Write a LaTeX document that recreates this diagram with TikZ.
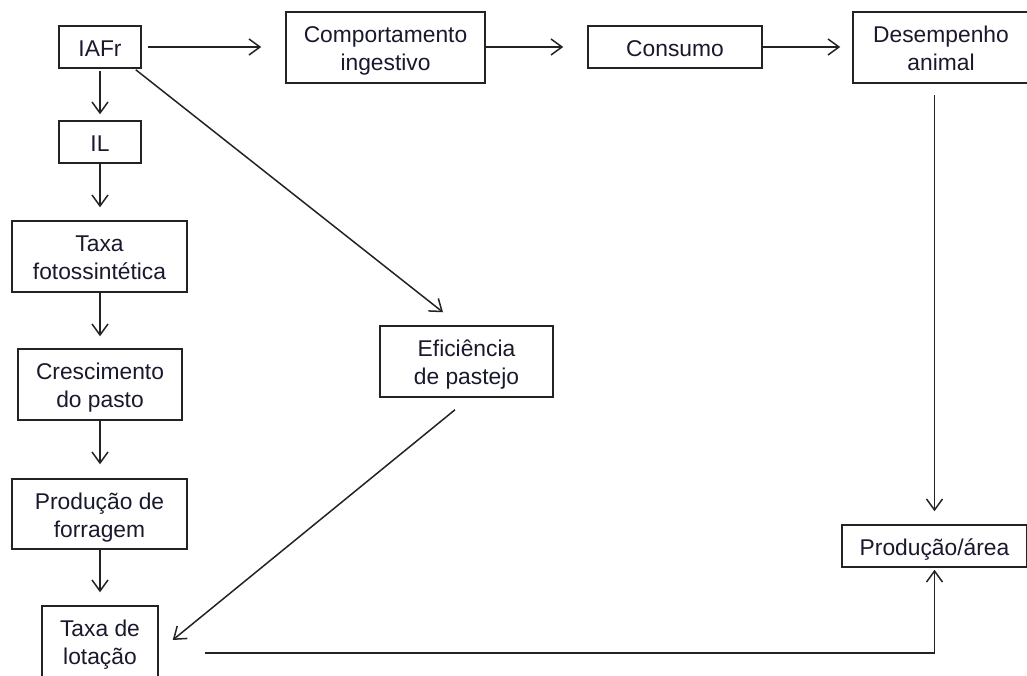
\documentclass[tikz,border=0pt]{standalone}
\usepackage{fontspec}
\setmainfont{Liberation Sans}
\usetikzlibrary{arrows.meta,calc}
\definecolor{txt}{RGB}{25,25,45}
\definecolor{ln}{RGB}{35,35,35}
\newcommand\sttop{\rule{0pt}{24.6pt}}
\newcommand\stbot{\rule[-6pt]{0pt}{6pt}}
\begin{document}
\begin{tikzpicture}[x=1pt,y=-1pt,
  box/.style={draw=ln, line width=1.5pt, align=center, inner sep=0pt,
    font=\fontsize{22.8}{28}\selectfont, text=txt},
  arr/.style={draw=ln, line width=1.5pt,
    -{Straight Barb[length=11pt,width=16pt,line width=1.5pt]}}]
\useasboundingbox (0,0) rectangle (1027,675);
\node[box, minimum width=82pt, minimum height=42pt] (iafr) at (100,47) {\sttop IAFr\stbot};
\node[box, minimum width=199pt, minimum height=71pt] (comp) at (385.5,47.5) {\sttop Comportamento\\ingestivo\stbot};
\node[box, minimum width=174pt, minimum height=42pt] (cons) at (675,47) {\sttop Consumo\stbot};
\node[box, minimum width=176pt, minimum height=71pt] (desemp) at (941,47.5) {\sttop Desempenho\\animal\stbot};
\node[box, minimum width=82pt, minimum height=42pt] (il) at (100,142) {\sttop IL\stbot};
\node[box, minimum width=175pt, minimum height=71pt] (foto) at (99.5,256.5) {\sttop Taxa\\fotossintética\stbot};
\node[box, minimum width=164pt, minimum height=71pt] (cresc) at (100,384.5) {\sttop Crescimento\\do pasto\stbot};
\node[box, minimum width=175pt, minimum height=70pt] (forr) at (99.5,514) {\sttop Produção de\\forragem\stbot};
\node[box, minimum width=116pt, minimum height=71pt] (tl) at (100,641.5) {\sttop Taxa de\\lotação\stbot};
\node[box, minimum width=173pt, minimum height=71pt] (efic) at (466.5,361.5) {\sttop Eficiência\\de pastejo\stbot};
\node[box, minimum width=185pt, minimum height=42pt] (pa) at (934.5,546) {\sttop Produção/área\stbot};

% top row
\draw[arr, shorten <=6pt, shorten >=24pt] (iafr.east) -- (iafr.east -| comp.west);
\draw[arr, shorten >=24pt] (comp.east |- cons.west) -- (cons.west);
\draw[arr, shorten >=12pt] (cons.east) -- (cons.east -| desemp.west);
% left column
\draw[arr, shorten <=2pt, shorten >=6pt] (iafr.south) -- (il.north);
\draw[arr, shorten >=13pt] (il.south) -- (il.south |- foto.north);
\draw[arr, shorten >=12pt] (foto.south -| il.south) -- (il.south |- cresc.north);
\draw[arr, shorten >=14pt] (cresc.south) -- (cresc.south |- forr.north);
\draw[arr, shorten >=13pt] (forr.south -| cresc.south) -- (cresc.south |- tl.north);
% diagonals
\draw[arr] ($(iafr.south east)+(-6,1)$) -- ($(efic.north)+(-23.5,-13)$);
\draw[arr] ($(efic.south)+(-11.5,12)$) -- ($(tl.east)+(14,-1.5)$);
% right
\draw[arr, shorten <=11pt, shorten >=13pt] (desemp.south -| pa.north) -- (pa.north);
\draw[arr, shorten >=2pt] ($(tl.east)+(46,11.5)$) -| (pa.south);
\end{tikzpicture}
\end{document}
